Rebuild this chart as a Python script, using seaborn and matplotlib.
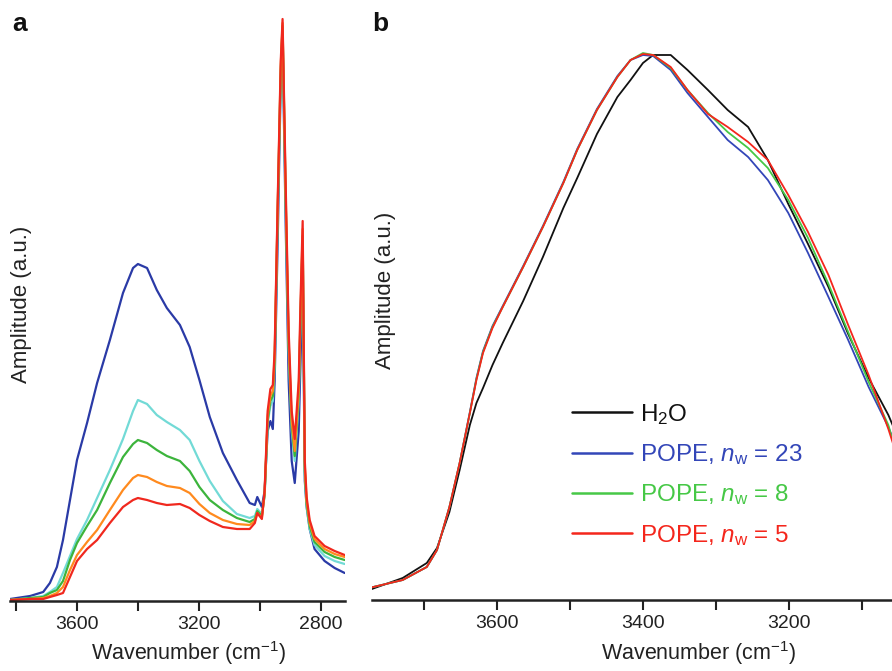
import matplotlib
matplotlib.use("Agg")
import matplotlib.pyplot as plt
import seaborn as sns
import pandas as pd
from matplotlib.ticker import MultipleLocator

# ---------------- data: panel a ----------------
wn_a = [3820, 3754, 3711, 3689, 3666, 3646, 3623, 3600, 3567, 3534, 3492, 3449, 3416, 3400,
        3370, 3338, 3305, 3262, 3230, 3198, 3164, 3121, 3075, 3033, 3016, 3008, 2993, 2984,
        2974, 2965, 2957, 2951, 2941, 2931, 2925, 2915, 2905, 2895, 2885, 2872, 2866, 2859,
        2852, 2846, 2836, 2820, 2787, 2754, 2721]
a_blue = [2, 5, 9, 18, 34, 61, 101, 141, 178, 218, 261, 308, 333, 337,
          333, 311, 293, 276, 254, 221, 184, 148, 121, 98, 96, 104, 94, 110,
          170, 180, 172, 220, 360, 520, 562, 380, 220, 140, 118, 170, 240, 330,
          120, 94, 72, 52, 40, 33, 28]
a_cyan = [1, 3, 5, 9, 14, 28, 45, 62, 81, 103, 131, 162, 190, 201,
          197, 186, 179, 171, 161, 140, 120, 100, 87, 83, 85, 92, 87, 105,
          178, 195, 200, 235, 385, 525, 570, 400, 250, 170, 140, 200, 280, 360,
          125, 94, 72, 56, 45, 40, 37]
a_green = [1, 3, 4, 8, 11, 20, 41, 58, 75, 91, 118, 144, 157, 161,
           158, 151, 145, 140, 130, 114, 101, 91, 83, 79, 82, 90, 85, 106,
           180, 200, 205, 240, 390, 530, 575, 405, 255, 175, 145, 205, 285, 365,
           130, 97, 75, 59, 49, 44, 41]
a_orange = [1, 2, 3, 5, 8, 14, 31, 46, 59, 71, 91, 111, 123, 126,
            124, 119, 115, 113, 108, 97, 88, 81, 77, 76, 80, 88, 83, 108,
            185, 205, 210, 245, 395, 535, 578, 410, 260, 180, 150, 210, 290, 372,
            135, 100, 78, 62, 52, 47, 44]
a_red = [1, 2, 2, 4, 6, 8, 24, 40, 52, 61, 78, 94, 101, 103,
         101, 98, 96, 97, 93, 86, 80, 74, 72, 72, 78, 88, 82, 110,
         190, 212, 216, 250, 400, 540, 582, 420, 270, 190, 162, 220, 300, 380,
         140, 104, 81, 65, 55, 50, 46]
series_a = ["blue", "cyan", "green", "orange", "red"]

# ---------------- data: panel b ----------------
wn_b = [3775, 3729, 3696, 3682, 3665, 3651, 3637, 3628, 3619, 3606, 3592, 3564, 3537, 3509,
        3490, 3463, 3435, 3417, 3400, 3386, 3362, 3339, 3311, 3284, 3256, 3229, 3201, 3174,
        3146, 3119, 3091, 3064, 3057]
b_h2o = [10, 22, 37, 52, 88, 130, 175, 197, 212, 235, 257, 299, 343, 392,
         422, 466, 503, 520, 537, 545, 545, 530, 510, 490, 473, 440, 396, 356,
         313, 266, 222, 185, 173]
b_n23 = [12, 20, 33, 50, 93, 137, 188, 222, 249, 274, 294, 334, 374, 418,
         451, 491, 524, 540, 545, 544, 530, 507, 483, 460, 443, 420, 387, 347,
         303, 260, 213, 173, 160]
b_n8 = [12, 20, 33, 50, 93, 137, 187, 221, 248, 273, 293, 333, 373, 417,
        450, 490, 523, 540, 547, 545, 532, 510, 487, 468, 452, 432, 400, 362,
        316, 268, 218, 175, 157]
b_n5 = [12, 20, 33, 50, 93, 137, 187, 220, 247, 272, 293, 333, 373, 417,
        450, 490, 523, 540, 546, 545, 533, 510, 486, 473, 458, 440, 405, 368,
        325, 275, 225, 171, 155]
labels_b = ["H$_2$O", "POPE, $n_{\\mathrm{w}}$ = 23", "POPE, $n_{\\mathrm{w}}$ = 8",
            "POPE, $n_{\\mathrm{w}}$ = 5"]

colors_a = {"blue": "#2a3aa6", "cyan": "#72dad6", "green": "#3cb43c",
            "orange": "#ff8a1e", "red": "#f0281e"}
colors_b = dict(zip(labels_b, ["#111111", "#3346b8", "#46c846", "#f4261c"]))

# ---------------- style ----------------
sns.set_theme(style="white")
plt.rcParams["font.family"] = ["Liberation Sans", "DejaVu Sans"]
plt.rcParams["mathtext.fontset"] = "custom"
plt.rcParams["mathtext.rm"] = "Liberation Sans"
plt.rcParams["mathtext.it"] = "Liberation Sans:italic"
plt.rcParams["mathtext.bf"] = "Liberation Sans:bold"

df_a = pd.DataFrame({
    "wn": wn_a * 5,
    "amp": a_blue + a_cyan + a_green + a_orange + a_red,
    "s": sum([[s] * len(wn_a) for s in series_a], []),
})
df_b = pd.DataFrame({
    "wn": wn_b * 4,
    "amp": b_h2o + b_n23 + b_n8 + b_n5,
    "s": sum([[s] * len(wn_b) for s in labels_b], []),
})

W, H = 892, 671
fig = plt.figure(figsize=(W / 100, H / 100), dpi=100)
axA = fig.add_axes([10 / W, (H - 601) / H, 335 / W, 586 / H])
axB = fig.add_axes([372 / W, (H - 600) / H, 520 / W, 585 / H])

sns.lineplot(data=df_a, x="wn", y="amp", hue="s", palette=colors_a, hue_order=series_a,
             ax=axA, linewidth=1.6, legend=False, estimator=None)
sns.lineplot(data=df_b, x="wn", y="amp", hue="s", palette=colors_b, hue_order=labels_b,
             ax=axB, linewidth=1.3, estimator=None)

axA.set_xlim(3820, 2720)
axA.set_ylim(0, 586)
axB.set_xlim(3771, 3059)
axB.set_ylim(0, 585)

for ax, major, minor in [(axA, 400, 200), (axB, 200, 100)]:
    for sp in ["top", "right", "left"]:
        ax.spines[sp].set_visible(False)
    ax.spines["bottom"].set_color("#222222")
    ax.spines["bottom"].set_linewidth(1.8)
    ax.set_yticks([])
    ax.xaxis.set_major_locator(MultipleLocator(major))
    ax.xaxis.set_minor_locator(MultipleLocator(minor))
    ax.tick_params(axis="x", which="both", direction="out", length=7, width=1.5,
                   color="#222222", bottom=True, labelsize=14, pad=4, labelcolor="#222222")
    ax.tick_params(axis="x", which="minor", labelbottom=False)
    ax.set_ylabel("")
    ax.set_xlabel("Wavenumber (cm$^{-1}$)", fontsize=15.5, color="#222222")
    ax.patch.set_alpha(0)

axA.xaxis.set_label_coords((189 - 10) / 335, (601 - 639) / 586)
axB.xaxis.set_label_coords((699 - 372) / 520, (600 - 639) / 585)

fig.text(22 / W, 1 - 304 / H, "Amplitude (a.u.)", rotation=90, ha="center", va="center",
         fontsize=16, color="#222222")
fig.text(385 / W, 1 - 290 / H, "Amplitude (a.u.)", rotation=90, ha="center", va="center",
         fontsize=16, color="#222222")
fig.text(12 / W, 1 - 31 / H, "a", fontsize=19, fontweight="bold", color="#111111")
fig.text(372 / W, 1 - 31 / H, "b", fontsize=19, fontweight="bold", color="#111111")

leg = axB.legend(loc="upper left", bbox_to_anchor=((572 - 372) / 520, (600 - 402) / 585),
                 frameon=False, fontsize=17.5, handlelength=2.45, handletextpad=0.35,
                 labelspacing=0.63, borderaxespad=0, borderpad=0, title=None)
for txt, line in zip(leg.get_texts(), leg.get_lines()):
    txt.set_color(line.get_color())
    line.set_linewidth(1.8)

fig.savefig("out.png", dpi=100)
